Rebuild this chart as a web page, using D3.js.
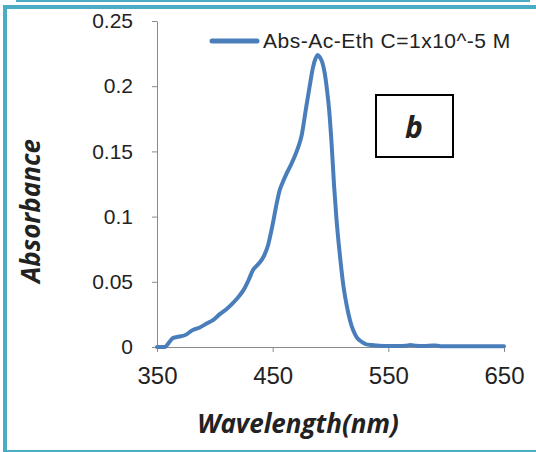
<!DOCTYPE html>
<html lang="en">
<head>
    <meta charset="UTF-8">
    <title>Absorbance spectrum</title>
    <script src="https://d3js.org/d3.v7.min.js"></script>
    <style>
        body { margin: 0; background: #fff; }
        svg { display: block; }
        text { font-family: "Liberation Sans", Arial, sans-serif; fill: #222; }
    </style>
</head>
<body>
    <div id="chart"></div>

    <script>
        // spectrum
        const wavelength = [350, 357, 360, 364, 369, 374, 381, 387, 393, 399, 404, 410, 416, 421, 425, 429, 433, 438, 442, 446, 450, 453, 456, 459, 462, 466, 469, 472, 475, 479, 482, 485, 487, 489, 491, 493, 495, 497, 499, 501, 503, 505, 507, 509, 511, 514, 517, 520, 523, 527, 531, 536, 542, 550, 560, 565, 569, 574, 580, 586, 590, 595, 610, 630, 650];
        const absorbance = [0, 0, 0.003, 0.007, 0.008, 0.009, 0.013, 0.015, 0.018, 0.021, 0.025, 0.029, 0.034, 0.039, 0.044, 0.051, 0.059, 0.064, 0.069, 0.078, 0.094, 0.108, 0.120, 0.127, 0.133, 0.140, 0.146, 0.153, 0.162, 0.184, 0.200, 0.215, 0.221, 0.224, 0.222, 0.218, 0.210, 0.197, 0.180, 0.155, 0.125, 0.100, 0.080, 0.063, 0.048, 0.032, 0.020, 0.012, 0.007, 0.004, 0.002, 0.0015, 0.001, 0.0008, 0.0008, 0.001, 0.0015, 0.001, 0.0008, 0.001, 0.0012, 0.0006, 0.0005, 0.0005, 0.0005];

        const xTicks = [350, 450, 550, 650];
        const yTicks = [0, 0.05, 0.1, 0.15, 0.2, 0.25];
        const seriesName = "Abs-Ac-Eth C=1x10^-5 M";

        const width = 536, height = 452;
        const blue = "#4a7ebb";
        const frame = "#4bacc6";

        const svg = d3.select("#chart").append("svg")
            .attr("width", width)
            .attr("height", height);

        // frame lines around the figure
        svg.append("rect").attr("x", 16).attr("y", 0).attr("width", 514).attr("height", 2).attr("fill", frame);
        svg.append("rect").attr("x", 3).attr("y", 5).attr("width", 533).attr("height", 4).attr("fill", frame);
        svg.append("rect").attr("x", 3).attr("y", 5).attr("width", 4).attr("height", 447).attr("fill", frame);
        svg.append("rect").attr("x", 7).attr("y", 450).attr("width", 529).attr("height", 2).attr("fill", frame);

        const x = d3.scaleLinear().domain([350, 650]).range([157, 504]);
        const y = d3.scaleLinear().domain([0, 0.25]).range([347, 21]);

        const xAxis = svg.append("g")
            .attr("transform", "translate(0,347)")
            .call(d3.axisBottom(x).tickValues(xTicks).tickSize(5).tickSizeOuter(0).tickPadding(15).tickFormat(d3.format("d")));
        xAxis.selectAll("text").attr("font-size", 24).style("font-family", "Liberation Sans, Arial, sans-serif").attr("fill", "#222");

        const yAxis = svg.append("g")
            .attr("transform", "translate(157,0)")
            .call(d3.axisLeft(y).tickValues(yTicks).tickSize(5).tickSizeOuter(0).tickPadding(19).tickFormat(d => d === 0 ? "0" : String(+d.toFixed(2))));
        yAxis.selectAll("text").attr("font-size", 21).style("font-family", "Liberation Sans, Arial, sans-serif").attr("fill", "#222");

        svg.selectAll(".domain, .tick line").attr("stroke", "#8a8a8a").attr("stroke-width", 1);

        const data = wavelength.map((w, i) => ({ w: w, a: absorbance[i] }));

        svg.append("path")
            .datum(data)
            .attr("fill", "none")
            .attr("stroke", blue)
            .attr("stroke-width", 4)
            .attr("stroke-linejoin", "round")
            .attr("stroke-linecap", "round")
            .attr("d", d3.line().x(d => x(d.w)).y(d => y(d.a)).curve(d3.curveMonotoneX));

        // legend
        svg.append("line")
            .attr("x1", 212).attr("x2", 257).attr("y1", 41).attr("y2", 41)
            .attr("stroke", blue).attr("stroke-width", 5).attr("stroke-linecap", "round");
        svg.append("text")
            .attr("x", 263).attr("y", 48)
            .attr("font-size", 21)
            .attr("letter-spacing", 0.5)
            .text(seriesName);

        // panel label box
        svg.append("rect")
            .attr("x", 376).attr("y", 95).attr("width", 77).attr("height", 62)
            .attr("fill", "#fff").attr("stroke", "#000").attr("stroke-width", 2);
        svg.append("text")
            .attr("x", 414).attr("y", 138)
            .attr("text-anchor", "middle")
            .attr("font-size", 30).attr("font-weight", "bold").attr("font-style", "italic")
            .style("font-family", "Open Sans, sans-serif")
            .text("b");

        // axis titles
        svg.append("text")
            .attr("x", 298).attr("y", 433)
            .attr("text-anchor", "middle")
            .attr("font-size", 26).attr("font-weight", "bold").attr("font-style", "italic")
            .style("font-family", "Open Sans, sans-serif")
            .text("Wavelength(nm)");

        svg.append("text")
            .attr("transform", "translate(40,211) rotate(-90)")
            .attr("text-anchor", "middle")
            .attr("font-size", 26).attr("font-weight", "bold").attr("font-style", "italic")
            .style("font-family", "Open Sans, sans-serif")
            .text("Absorbance");
    </script>
</body>
</html>
